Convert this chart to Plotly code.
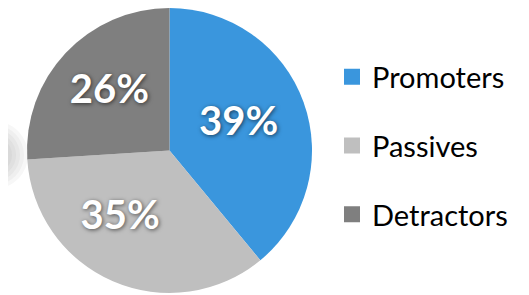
import plotly.graph_objects as go

labels = ["Promoters", "Passives", "Detractors"]
values = [39, 35, 26]
colors = ["#3A96DD", "#BFBFBF", "#7F7F7F"]

big = "<span style='font-size:40px'>%s</span><br>\u00a0"
label_templates = [big % "%{percent:.0%}",
                   big % "%{percent:.0%}\u00a0\u00a0\u00a0\u00a0",
                   big % "%{percent:.0%}"]

W, H = 529, 295
OFF = 8  # browser default body margin

fig = go.Figure()
fig.add_trace(go.Pie(
    labels=labels, values=values, sort=False, direction="clockwise", rotation=0,
    marker=dict(colors=colors, line=dict(width=0)),
    texttemplate=label_templates, textposition="inside", insidetextorientation="horizontal",
    textfont=dict(family="Lato", size=14, color="white", weight="bold",
                  shadow="1px 1px 4px rgba(0,0,0,0.6)"),
    domain=dict(x=[(26 - OFF)/W, (313 - OFF)/W], y=[(H - (293 - OFF))/H, 1]),
    showlegend=False, hoverinfo="label+percent",
))
for lab, col in zip(labels, colors):
    fig.add_trace(go.Scatter(
        x=[None], y=[None], mode="markers", name=lab, legendgroup=lab,
        marker=dict(symbol="square", size=18, color=col),
        showlegend=True,
    ))

# soft grey glow at the left edge
cx, cy = -6 - OFF, 155 - OFF
for r in [34, 30, 26, 22, 18, 14, 10]:
    fig.add_shape(type="circle", xref="paper", yref="paper",
                  x0=(cx - r)/W, x1=(cx + r)/W,
                  y0=(H - cy - r)/H, y1=(H - cy + r)/H,
                  fillcolor="rgb(80,80,80)", opacity=0.045, line=dict(width=0), layer="below")

fig.update_layout(
    width=W, height=H, margin=dict(l=0, r=0, t=0, b=0),
    paper_bgcolor="white", plot_bgcolor="white",
    xaxis=dict(visible=False, domain=[0.99, 1]), yaxis=dict(visible=False),
    legend=dict(x=(332 - OFF)/W, y=(H - (146 - OFF))/H, xanchor="left", yanchor="middle",
                font=dict(family="Lato", size=29, color="#000000"),
                tracegroupgap=28, itemwidth=30, bgcolor="rgba(0,0,0,0)"),
)
fig.write_html("out.html")
